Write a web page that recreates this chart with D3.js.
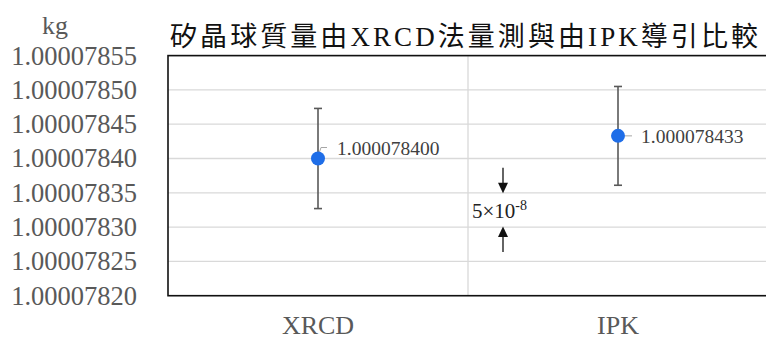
<!DOCTYPE html>
<html>
<head>
<meta charset="utf-8">
<script src="https://cdn.jsdelivr.net/npm/d3@7"></script>
<style>
  body { margin: 0; background: #fff; }
  svg { display: block; }
</style>
</head>
<body>
<div id="chart"></div>
<script>
// Data
var categories = ["XRCD", "IPK"];
var masses = [1.0000784, 1.000078433];
var errors = [7.3e-8, 7.2e-8];
var yTicks = [1.0000782, 1.00007825, 1.0000783, 1.00007835, 1.0000784, 1.00007845, 1.0000785, 1.00007855];
var titleText = "矽晶球質量由XRCD法量測與由IPK導引比較";
var unitText = "kg";

// Set the dimensions and margins of the graph
var W = 766, H = 338;
var margin = {top: 55.6, right: -2, bottom: 42.3, left: 168},
    width = W - margin.left - margin.right,
    height = H - margin.top - margin.bottom;

var serif = "'Liberation Serif', 'Times New Roman', serif";

var svg = d3.select("#chart")
    .append("svg")
    .attr("width", W)
    .attr("height", H);

var g = svg.append("g")
    .attr("transform", "translate(" + margin.left + "," + margin.top + ")");

var x = d3.scaleBand()
    .domain(categories)
    .range([0, width]);

var y = d3.scaleLinear()
    .domain([d3.min(yTicks), d3.max(yTicks)])
    .range([height, 0]);

// Horizontal gridlines
g.selectAll(".hgrid")
    .data(yTicks)
    .enter().append("line")
    .attr("x1", 0)
    .attr("x2", width)
    .attr("y1", d => y(d))
    .attr("y2", d => y(d))
    .attr("stroke", "#d9d9d9")
    .attr("stroke-width", 1.3);

// Vertical divider between categories
g.selectAll(".vgrid")
    .data(categories.slice(1))
    .enter().append("line")
    .attr("x1", d => x(d))
    .attr("x2", d => x(d))
    .attr("y1", 0)
    .attr("y2", height)
    .attr("stroke", "#d9d9d9")
    .attr("stroke-width", 1.3);

// Plot frame
g.append("rect")
    .attr("x", 0)
    .attr("y", 0)
    .attr("width", width)
    .attr("height", height)
    .attr("fill", "none")
    .attr("stroke", "#111")
    .attr("stroke-width", 1.6);

// Y axis labels
var yAxis = g.append("g")
    .call(d3.axisLeft(y)
        .tickValues(yTicks)
        .tickSize(0)
        .tickPadding(31)
        .tickFormat(d3.format(".8f")))
    .call(a => a.select(".domain").remove());
yAxis.selectAll("text")
    .attr("fill", "#595959")
    .style("font-family", serif)
    .style("font-size", "26.5px");

// X axis labels
var xAxis = g.append("g")
    .attr("transform", "translate(0," + height + ")")
    .call(d3.axisBottom(x).tickSize(0).tickPadding(20))
    .call(a => a.select(".domain").remove());
xAxis.selectAll("text")
    .attr("fill", "#595959")
    .style("font-family", serif)
    .style("font-size", "26px");

var pts = categories.map((c, i) => ({cat: c, v: masses[i], e: errors[i]}));
var cx = d => x(d.cat) + x.bandwidth() / 2;

// Error bars
var eb = g.selectAll(".err").data(pts).enter().append("g");
eb.append("line")
    .attr("x1", cx).attr("x2", cx)
    .attr("y1", d => y(d.v + d.e)).attr("y2", d => y(d.v - d.e))
    .attr("stroke", "#595959").attr("stroke-width", 1.6);
eb.append("line")
    .attr("x1", d => cx(d) - 4).attr("x2", d => cx(d) + 4)
    .attr("y1", d => y(d.v + d.e)).attr("y2", d => y(d.v + d.e))
    .attr("stroke", "#595959").attr("stroke-width", 1.6);
eb.append("line")
    .attr("x1", d => cx(d) - 4).attr("x2", d => cx(d) + 4)
    .attr("y1", d => y(d.v - d.e)).attr("y2", d => y(d.v - d.e))
    .attr("stroke", "#595959").attr("stroke-width", 1.6);

// Leader lines for the data labels
g.append("path")
    .datum(pts[0])
    .attr("d", d => "M" + (cx(d) + 1) + "," + (y(d.v) - 5) +
        "L" + (cx(d) + 3) + "," + (y(d.v) - 11) + "L" + (cx(d) + 9) + "," + (y(d.v) - 11))
    .attr("fill", "none").attr("stroke", "#a6a6a6").attr("stroke-width", 1);
g.append("line")
    .datum(pts[1])
    .attr("x1", d => cx(d) + 7).attr("x2", d => cx(d) + 14)
    .attr("y1", d => y(d.v)).attr("y2", d => y(d.v))
    .attr("stroke", "#a6a6a6").attr("stroke-width", 1);

// Points
g.selectAll("circle")
    .data(pts)
    .enter().append("circle")
    .attr("cx", cx)
    .attr("cy", d => y(d.v))
    .attr("r", 7)
    .attr("fill", "#1f6ee8");

// Data labels
g.selectAll(".lbl")
    .data(pts)
    .enter().append("text")
    .attr("x", (d, i) => cx(d) + (i === 0 ? 19 : 23))
    .attr("y", (d, i) => y(d.v) + (i === 0 ? -10 : 0))
    .attr("dy", "0.35em")
    .attr("fill", "#404040")
    .style("font-family", serif)
    .style("font-size", "19.5px")
    .text(d => d3.format(".9f")(d.v));

// 5x10^-8 marker between two gridlines
var ax = x("IPK") + 35;
var yA = y(yTicks[3]), yB = y(yTicks[2]);
g.append("line")
    .attr("x1", ax).attr("x2", ax).attr("y1", yA - 25).attr("y2", yA - 8)
    .attr("stroke", "#111").attr("stroke-width", 1.3);
g.append("path")
    .attr("d", "M" + (ax - 5) + "," + (yA - 10) + "L" + (ax + 5) + "," + (yA - 10) + "L" + ax + "," + (yA + 0.5) + "Z")
    .attr("fill", "#111");
g.append("line")
    .attr("x1", ax).attr("x2", ax).attr("y1", yB + 8).attr("y2", yB + 25)
    .attr("stroke", "#111").attr("stroke-width", 1.3);
g.append("path")
    .attr("d", "M" + (ax - 5) + "," + (yB + 10) + "L" + (ax + 5) + "," + (yB + 10) + "L" + ax + "," + (yB - 0.5) + "Z")
    .attr("fill", "#111");
var note = g.append("text")
    .attr("x", ax - 31)
    .attr("y", (yA + yB) / 2 + 8)
    .attr("fill", "#222")
    .style("font-family", serif)
    .style("font-size", "21px");
note.append("tspan").text("5×10");
note.append("tspan").attr("dy", -8).style("font-size", "14px").text("-8");

// Unit label
svg.append("text")
    .attr("x", 55)
    .attr("y", 34)
    .attr("text-anchor", "middle")
    .attr("fill", "#595959")
    .style("font-family", serif)
    .style("font-size", "26px")
    .text(unitText);

// Title
svg.append("text")
    .attr("x", 170)
    .attr("y", 46)
    .attr("textLength", 588)
    .attr("lengthAdjust", "spacing")
    .attr("fill", "#111")
    .style("font-family", "'Liberation Serif', 'Noto Sans CJK TC', serif")
    .style("font-size", "27px")
    .text(titleText);
</script>
</body>
</html>
